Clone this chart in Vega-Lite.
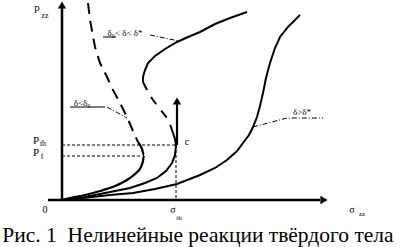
{
  "$schema": "https://vega.github.io/schema/vega-lite/v6.json",
  "width": 400,
  "height": 247,
  "autosize": {"type": "none"},
  "padding": 0,
  "background": "white",
  "config": {"view": {"stroke": null}},
  "datasets": {
    "c1dash": [
      {"o":1,"s":26,"p":197},{"o":2,"s":28,"p":180},{"o":3,"s":33,"p":153},{"o":4,"s":38,"p":137},{"o":5,"s":45,"p":123},{"o":6,"s":51,"p":110},{"o":7,"s":58,"p":97},{"o":8,"s":65,"p":83},{"o":9,"s":71,"p":69},{"o":10,"s":76,"p":58}
    ],
    "c1solid": [
      {"o":1,"s":76,"p":58},{"o":2,"s":80,"p":51},{"o":3,"s":82,"p":45},{"o":4,"s":81,"p":39},{"o":5,"s":79,"p":33},{"o":6,"s":73,"p":26},{"o":7,"s":65,"p":20},{"o":8,"s":53,"p":14},{"o":9,"s":38,"p":9},{"o":10,"s":23,"p":5},{"o":11,"s":8,"p":2},{"o":12,"s":0,"p":0}
    ],
    "c2upper": [
      {"o":1,"s":185,"p":188},{"o":2,"s":168,"p":182},{"o":3,"s":153,"p":176},{"o":4,"s":138,"p":168},{"o":5,"s":126,"p":163},{"o":6,"s":115,"p":158},{"o":7,"s":103,"p":151},{"o":8,"s":93,"p":144},{"o":9,"s":86,"p":137},{"o":10,"s":83,"p":130},{"o":11,"s":81,"p":123},{"o":12,"s":81,"p":118}
    ],
    "c2dash": [
      {"o":1,"s":81,"p":118},{"o":2,"s":85,"p":110},{"o":3,"s":91,"p":100},{"o":4,"s":98,"p":91},{"o":5,"s":105,"p":82},{"o":6,"s":109,"p":73},{"o":7,"s":111,"p":67}
    ],
    "c2lower": [
      {"o":1,"s":111,"p":67},{"o":2,"s":113,"p":61},{"o":3,"s":114,"p":55},{"o":4,"s":113,"p":45},{"o":5,"s":110,"p":37},{"o":6,"s":104,"p":29},{"o":7,"s":95,"p":22},{"o":8,"s":83,"p":17},{"o":9,"s":68,"p":12},{"o":10,"s":53,"p":9},{"o":11,"s":38,"p":6},{"o":12,"s":23,"p":3},{"o":13,"s":8,"p":1},{"o":14,"s":0,"p":0}
    ],
    "c3": [
      {"o":1,"s":0,"p":0},{"o":2,"s":21,"p":2},{"o":3,"s":48,"p":5},{"o":4,"s":71,"p":7},{"o":5,"s":93,"p":11},{"o":6,"s":115,"p":16},{"o":7,"s":138,"p":25},{"o":8,"s":153,"p":32},{"o":9,"s":165,"p":40},{"o":10,"s":175,"p":49},{"o":11,"s":181,"p":57},{"o":12,"s":187,"p":65},{"o":13,"s":191,"p":73},{"o":14,"s":195,"p":83},{"o":15,"s":198,"p":94},{"o":16,"s":201,"p":107},{"o":17,"s":204,"p":122},{"o":18,"s":208,"p":137},{"o":19,"s":213,"p":152},{"o":20,"s":218,"p":163},{"o":21,"s":226,"p":173},{"o":22,"s":238,"p":185}
    ],
    "jump": [
      {"o":1,"s":115,"p":55},{"o":2,"s":115,"p":97}
    ],
    "yaxis": [
      {"o":1,"s":0,"p":0},{"o":2,"s":0,"p":192}
    ],
    "xaxis": [
      {"o":1,"s":-14,"p":0},{"o":2,"s":258,"p":0}
    ],
    "heads_up": [
      {"s":0,"p":195},{"s":115,"p":99}
    ],
    "heads_right": [
      {"s":262,"p":0}
    ],
    "guides": [
      {"g":"a","o":1,"s":0,"p":55},{"g":"a","o":2,"s":114,"p":55},
      {"g":"b","o":1,"s":0,"p":44},{"g":"b","o":2,"s":78,"p":44},
      {"g":"c","o":1,"s":114,"p":55},{"g":"c","o":2,"s":114,"p":0}
    ],
    "leaders": [
      {"g":"a","o":1,"s":45,"p":93},{"g":"a","o":2,"s":65,"p":82},
      {"g":"b","o":1,"s":88,"p":165},{"g":"b","o":2,"s":117,"p":159},
      {"g":"c","o":1,"s":191,"p":73},{"g":"c","o":2,"s":225,"p":82},{"g":"c","o":3,"s":261,"p":82}
    ],
    "underlines": [
      {"g":"a","o":1,"s":8,"p":93},{"g":"a","o":2,"s":43,"p":93},
      {"g":"b","o":1,"s":41,"p":163},{"g":"b","o":2,"s":54,"p":163}
    ],
    "labels_small": [
      {"t":"δ<δ₀","s":20,"p":97},
      {"t":"δ₀< δ< δ*","s":63,"p":167},
      {"t":"δ>δ*","s":240,"p":88}
    ],
    "labels": [
      {"t":"p","s":-25,"p":192,"f":11},
      {"t":"zz","s":-17,"p":184,"f":8},
      {"t":"P","s":-26,"p":59,"f":11},
      {"t":"th","s":-19,"p":56,"f":8},
      {"t":"P","s":-26,"p":47,"f":11},
      {"t":"f","s":-20,"p":43,"f":8},
      {"t":"c","s":125,"p":58,"f":10},
      {"t":"0","s":-17,"p":-10,"f":10},
      {"t":"σ","s":111,"p":-10,"f":10},
      {"t":"th","s":117,"p":-18,"f":7},
      {"t":"σ","s":290,"p":-10,"f":10},
      {"t":"zz","s":300,"p":-14,"f":7}
    ],
    "caption": [
      {"t":"Рис. 1 \u00a0Нелинейные реакции твёрдого тела","s":136,"p":-42}
    ]
  },
  "encoding": {
    "x": {"field": "s", "type": "quantitative", "scale": {"domain": [-62, 338], "nice": false, "zero": false}, "axis": null},
    "y": {"field": "p", "type": "quantitative", "scale": {"domain": [-47, 200], "nice": false, "zero": false}, "axis": null}
  },
  "layer": [
    {"data": {"name": "guides"}, "mark": {"type": "line", "color": "black", "strokeWidth": 1, "strokeDash": [3, 2]}, "encoding": {"detail": {"field": "g"}, "order": {"field": "o"}}},
    {"data": {"name": "leaders"}, "mark": {"type": "line", "color": "black", "strokeWidth": 1, "strokeDash": [5, 2, 1, 2]}, "encoding": {"detail": {"field": "g"}, "order": {"field": "o"}}},
    {"data": {"name": "underlines"}, "mark": {"type": "line", "color": "black", "strokeWidth": 1}, "encoding": {"detail": {"field": "g"}, "order": {"field": "o"}}},
    {"data": {"name": "c1dash"}, "mark": {"type": "line", "color": "black", "strokeWidth": 2, "strokeDash": [11, 7]}, "encoding": {"order": {"field": "o"}}},
    {"data": {"name": "c1solid"}, "mark": {"type": "line", "color": "black", "strokeWidth": 2.2, "interpolate": "monotone"}, "encoding": {"order": {"field": "o"}}},
    {"data": {"name": "c2upper"}, "mark": {"type": "line", "color": "black", "strokeWidth": 2}, "encoding": {"order": {"field": "o"}}},
    {"data": {"name": "c2dash"}, "mark": {"type": "line", "color": "black", "strokeWidth": 2, "strokeDash": [9, 8]}, "encoding": {"order": {"field": "o"}}},
    {"data": {"name": "c2lower"}, "mark": {"type": "line", "color": "black", "strokeWidth": 2}, "encoding": {"order": {"field": "o"}}},
    {"data": {"name": "c3"}, "mark": {"type": "line", "color": "black", "strokeWidth": 2}, "encoding": {"order": {"field": "o"}}},
    {"data": {"name": "jump"}, "mark": {"type": "line", "color": "black", "strokeWidth": 2.2}, "encoding": {"order": {"field": "o"}}},
    {"data": {"name": "yaxis"}, "mark": {"type": "line", "color": "black", "strokeWidth": 2.5}, "encoding": {"order": {"field": "o"}}},
    {"data": {"name": "xaxis"}, "mark": {"type": "line", "color": "black", "strokeWidth": 2.5}, "encoding": {"order": {"field": "o"}}},
    {"data": {"name": "heads_up"}, "mark": {"type": "point", "shape": "triangle-up", "filled": true, "color": "black", "opacity": 1, "size": 70}},
    {"data": {"name": "heads_right"}, "mark": {"type": "point", "shape": "triangle-right", "filled": true, "color": "black", "opacity": 1, "size": 70}},
    {"data": {"name": "labels_small"}, "mark": {"type": "text", "font": "Liberation Serif", "fontSize": 9, "color": "black", "align": "center", "baseline": "middle"}, "encoding": {"text": {"field": "t"}}},
    {"data": {"name": "labels"}, "mark": {"type": "text", "font": "Liberation Serif", "color": "black", "align": "center", "baseline": "middle"}, "encoding": {"text": {"field": "t"}, "size": {"field": "f", "type": "quantitative", "scale": null}}},
    {"data": {"name": "caption"}, "mark": {"type": "text", "font": "Liberation Serif", "fontSize": 21.5, "color": "black", "align": "center", "baseline": "alphabetic"}, "encoding": {"text": {"field": "t"}}}
  ]
}
